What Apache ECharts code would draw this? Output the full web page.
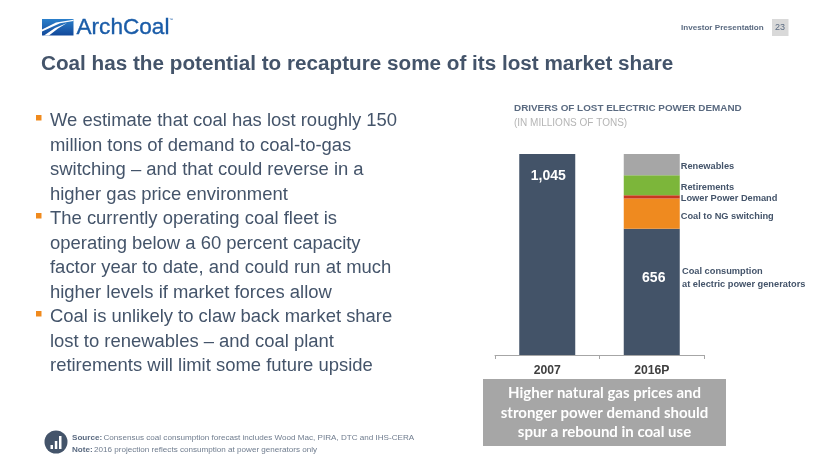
<!DOCTYPE html>
<html><head><meta charset="utf-8">
<style>html,body{margin:0;padding:0;background:#fff}#c{width:830px;height:467px}</style>
<script src="https://cdn.jsdelivr.net/npm/echarts@6/dist/echarts.min.js"></script>
</head><body><div id="c"></div>
<script>
var categories = ['2007', '2016P'];
var coalValues = [1045, 656];
var switchingValues = [null, 158];
var lowerDemandValues = [null, 16];
var retirementValues = [null, 104];
var renewableValues = [null, 111];
var bodyLines = [
 ['We estimate that coal has lost roughly 150', true],
 ['million tons of demand to coal-to-gas', false],
 ['switching – and that could reverse in a', false],
 ['higher gas price environment', false],
 ['The currently operating coal fleet is', true],
 ['operating below a 60 percent capacity', false],
 ['factor year to date, and could run at much', false],
 ['higher levels if market forces allow', false],
 ['Coal is unlikely to claw back market share', true],
 ['lost to renewables – and coal plant', false],
 ['retirements will limit some future upside', false]
];
var calloutLines = ['Higher natural gas prices and', 'stronger power demand should', 'spur a rebound in coal use'];

var SANS = '"Liberation Sans", Arial, sans-serif';
var INK = '#44546a';
var g = [];
function text(x, y, s, size, color, bold, align, family, extra) {
  var style = {text:s, fill:color, align:align||'left', verticalAlign:'middle',
    font:(bold?'bold ':'')+size+'px '+(family||SANS)};
  if (extra) { style.stroke = extra.stroke; style.lineWidth = extra.lineWidth; }
  g.push({type:'text', x:x, y:y, silent:true, z:20, style:style});
}
// logo
g.push({type:'polygon', shape:{points:[[42,19],[73.5,19],[73.5,35.5],[42,35.5]]}, style:{fill:new echarts.graphic.LinearGradient(0,0,0,1,[{offset:0,color:'#2b80cb'},{offset:1,color:'#12489a'}])}});
g.push({type:'polygon', shape:{points:[[42,29.5],[56,22.5],[73.5,19.8],[73.5,21],[60,23.3],[42,31.5]]}, style:{fill:'#fff'}});
g.push({type:'polygon', shape:{points:[[44,35.5],[55,28],[67,23],[58,28.5],[49,35.5]]}, style:{fill:'#fff'}});
text(76.5, 27.5, 'ArchCoal', 22.6, '#1a5ca8', false, 'left', null, {stroke:'#1a5ca8', lineWidth:0.35});
text(169, 20, '™', 4, '#1a5ca8', false);
// header
text(681, 28, 'Investor Presentation', 8.1, '#5a6a80', true);
g.push({type:'rect', shape:{x:772,y:19,width:16.5,height:17}, style:{fill:'#d9d9d9'}});
text(780, 28, '23', 9, '#5a6a80', false, 'center');
// title
text(41, 64.5, 'Coal has the potential to recapture some of its lost market share', 20.7, INK, true);
// body
bodyLines.forEach(function (l, i) {
  var y = 121 + i * 24.5;
  if (l[1]) g.push({type:'rect', shape:{x:36,y:y-6,width:5.5,height:5.5}, style:{fill:'#f08a1d'}});
  text(50, y, l[0], 18.45, INK, false);
});
// chart headings
text(514, 108.5, 'DRIVERS OF LOST ELECTRIC POWER DEMAND', 9.9, '#5a6a80', true);
text(514, 123.5, '(IN MILLIONS OF TONS)', 10, '#b5b5b5', false);
text(682, 271.5, 'Coal consumption', 9.25, INK, true);
text(682, 284, 'at electric power generators', 9.25, INK, true);
// callout
g.push({type:'rect', shape:{x:483,y:379,width:243,height:67}, style:{fill:'#a6a6a6'}});
calloutLines.forEach(function (s, i) {
  text(604.5, 393.5 + i * 19.5, s, 15, '#fff', true, 'center', 'Lato, sans-serif');
});
// footer
g.push({type:'circle', shape:{cx:56,cy:442,r:11.5}, style:{fill:INK}});
[[50.5,445,2.5,4],[54.8,441,2.5,8],[59,436,2.5,13]].forEach(function (b) {
  g.push({type:'rect', shape:{x:b[0],y:b[1],width:b[2],height:b[3]}, z:21, style:{fill:'#fff'}});
});
text(72, 438, 'Source:', 8.1, '#5a6a80', true);
text(103.5, 438, 'Consensus coal consumption forecast includes Wood Mac, PIRA, DTC and IHS-CERA', 8.1, '#6f7c8e', false);
text(72, 449.5, 'Note:', 8.1, '#5a6a80', true);
text(94, 449.5, '2016 projection reflects consumption at power generators only', 8.1, '#6f7c8e', false);

function sideLabel(name, off) {
  return {show:true, position:'right', distance:1, offset:off||[0,0], color:INK,
    fontFamily:SANS, fontWeight:'bold', fontSize:9.25, formatter:function(p){return p.value==null?'':name;}};
}
function seg(name, data, color, off) {
  return {name:name, type:'bar', stack:'t', data:data, barWidth:56, itemStyle:{color:color}, label:sideLabel(name, off)};
}
var insideDistance = [15, 42];
var chart = echarts.init(document.getElementById('c'), null, {renderer:'canvas'});
chart.setOption({
  animation:false,
  backgroundColor:'#fff',
  grid:{left:495, top:154, width:209, height:201, containLabel:false},
  xAxis:{type:'category', data:categories,
    axisLine:{lineStyle:{color:'#a6a6a6', width:1}},
    axisTick:{show:true, length:4, lineStyle:{color:'#a6a6a6'}},
    axisLabel:{color:'#404040', fontFamily:SANS, fontWeight:'bold', fontSize:12.2, margin:10}},
  yAxis:{type:'value', min:0, max:1045, show:false, splitLine:{show:false}},
  series:[
    {name:'Coal consumption', type:'bar', stack:'t', barWidth:56, itemStyle:{color:'#435368'},
     data:coalValues.map(function (v, i) {
       return {value:v, label:{distance:insideDistance[i], offset:[i?2:1,0]}};
     }),
     label:{show:true, position:'insideTop', color:'#fff', fontFamily:SANS, fontWeight:'bold', fontSize:14,
       formatter:function(p){return p.value.toLocaleString('en-US');}}},
    seg('Coal to NG switching', switchingValues, '#ef8a1f', [0,3]),
    seg('Lower Power Demand', lowerDemandValues, '#c8371f', [0,2]),
    seg('Retirements', retirementValues, '#7cb63a', [0,2]),
    seg('Renewables', renewableValues, '#a6a6a6', [0,2])
  ],
  graphic:g
});
</script></body></html>
